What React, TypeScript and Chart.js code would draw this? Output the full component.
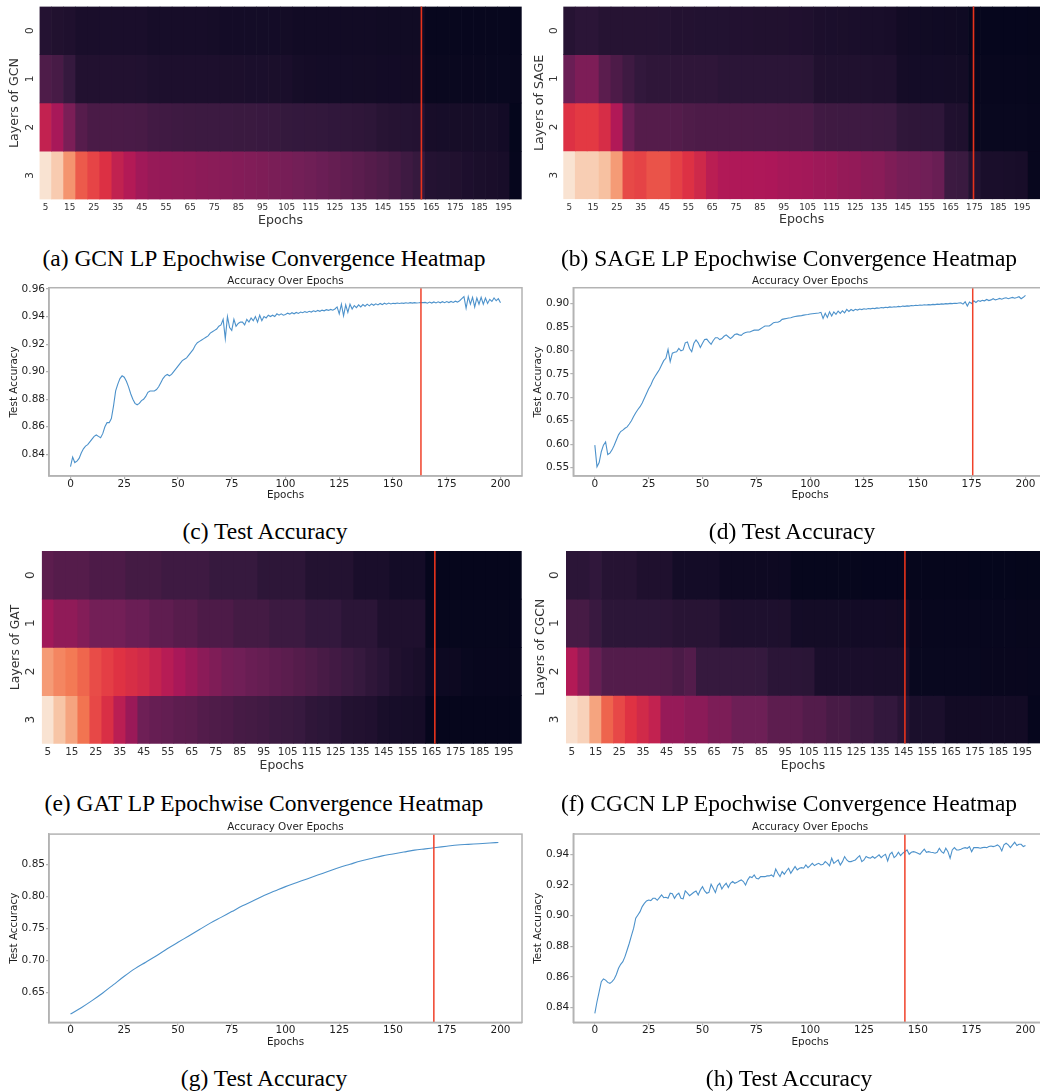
import React, { useEffect, useRef } from 'react';
import { Chart, registerables } from 'chart.js';

Chart.register(...registerables);
Chart.defaults.font.family = "'DejaVu Sans', 'Noto Sans', sans-serif";

// ---------------- DATA ----------------
const heatEpochs = [5, 10, 15, 20, 25, 30, 35, 40, 45, 50, 55, 60, 65, 70, 75, 80, 85, 90, 95, 100,
  105, 110, 115, 120, 125, 130, 135, 140, 145, 150, 155, 160, 165, 170, 175, 180, 185, 190, 195, 200];
const heatLayers = ['0', '1', '2', '3'];

// normalised colour intensity per cell (0 = darkest, 1 = lightest)
const gcnL0 = [0.095, 0.085, 0.080, 0.066, 0.066, 0.066, 0.066, 0.066, 0.066, 0.058,
  0.058, 0.058, 0.058, 0.058, 0.055, 0.050, 0.050, 0.050, 0.050, 0.050,
  0.048, 0.043, 0.043, 0.043, 0.043, 0.043, 0.043, 0.043, 0.040, 0.040,
  0.040, 0.040, 0.014, 0.014, 0.014, 0.014, 0.014, 0.014, 0.014, 0.010];
const gcnL1 = [0.204, 0.187, 0.143, 0.089, 0.089, 0.089, 0.089, 0.089, 0.087, 0.078,
  0.075, 0.075, 0.075, 0.075, 0.075, 0.072, 0.072, 0.070, 0.070, 0.068,
  0.066, 0.055, 0.052, 0.050, 0.050, 0.050, 0.048, 0.048, 0.046, 0.046,
  0.045, 0.045, 0.020, 0.020, 0.020, 0.020, 0.020, 0.018, 0.018, 0.015];
const gcnL2 = [0.487, 0.417, 0.312, 0.223, 0.194, 0.194, 0.194, 0.192, 0.190, 0.175,
  0.170, 0.165, 0.162, 0.160, 0.160, 0.158, 0.156, 0.155, 0.152, 0.150,
  0.140, 0.138, 0.136, 0.134, 0.130, 0.128, 0.125, 0.120, 0.105, 0.100,
  0.098, 0.095, 0.060, 0.058, 0.057, 0.056, 0.055, 0.054, 0.046, 0.006];
const gcnL3 = [0.980, 0.917, 0.783, 0.655, 0.607, 0.558, 0.484, 0.445, 0.400, 0.378,
  0.370, 0.365, 0.360, 0.352, 0.347, 0.340, 0.333, 0.326, 0.318, 0.310,
  0.302, 0.293, 0.283, 0.272, 0.260, 0.248, 0.235, 0.220, 0.205, 0.190,
  0.165, 0.145, 0.095, 0.090, 0.085, 0.075, 0.068, 0.065, 0.060, 0.010];

const sageL0 = [0.100, 0.115, 0.115, 0.100, 0.100, 0.100, 0.100, 0.100, 0.098, 0.092,
  0.092, 0.090, 0.090, 0.090, 0.088, 0.088, 0.085, 0.085, 0.085, 0.082,
  0.080, 0.072, 0.070, 0.068, 0.066, 0.064, 0.062, 0.060, 0.045, 0.042,
  0.040, 0.038, 0.036, 0.034, 0.010, 0.010, 0.010, 0.010, 0.010, 0.008];
const sageL1 = [0.272, 0.316, 0.316, 0.235, 0.200, 0.165, 0.135, 0.125, 0.125, 0.125,
  0.125, 0.125, 0.125, 0.115, 0.115, 0.115, 0.115, 0.115, 0.115, 0.115,
  0.112, 0.085, 0.083, 0.083, 0.083, 0.083, 0.080, 0.080, 0.052, 0.050,
  0.050, 0.050, 0.048, 0.048, 0.015, 0.015, 0.015, 0.015, 0.015, 0.012];
const sageL2 = [0.560, 0.584, 0.584, 0.542, 0.440, 0.272, 0.220, 0.220, 0.220, 0.218,
  0.205, 0.202, 0.200, 0.200, 0.200, 0.200, 0.198, 0.198, 0.196, 0.195,
  0.193, 0.170, 0.168, 0.166, 0.165, 0.164, 0.162, 0.160, 0.128, 0.125,
  0.124, 0.122, 0.082, 0.080, 0.018, 0.018, 0.018, 0.018, 0.018, 0.015];
const sageL3 = [0.980, 0.925, 0.925, 0.890, 0.800, 0.617, 0.605, 0.640, 0.640, 0.600,
  0.560, 0.520, 0.465, 0.440, 0.435, 0.435, 0.432, 0.430, 0.415, 0.410,
  0.405, 0.395, 0.390, 0.372, 0.368, 0.352, 0.348, 0.320, 0.300, 0.295,
  0.285, 0.270, 0.160, 0.155, 0.095, 0.066, 0.066, 0.064, 0.060, 0.015];

const gatL0 = [0.237, 0.220, 0.220, 0.220, 0.200, 0.200, 0.200, 0.180, 0.180, 0.180,
  0.165, 0.165, 0.165, 0.165, 0.145, 0.145, 0.145, 0.145, 0.120, 0.120,
  0.120, 0.120, 0.092, 0.092, 0.092, 0.092, 0.066, 0.066, 0.066, 0.050,
  0.050, 0.050, 0.008, 0.008, 0.008, 0.008, 0.008, 0.008, 0.008, 0.006];
const gatL1 = [0.402, 0.360, 0.360, 0.330, 0.292, 0.292, 0.292, 0.272, 0.272, 0.245,
  0.245, 0.225, 0.225, 0.200, 0.200, 0.200, 0.180, 0.180, 0.180, 0.160,
  0.160, 0.160, 0.138, 0.138, 0.138, 0.115, 0.115, 0.115, 0.080, 0.080,
  0.080, 0.080, 0.012, 0.012, 0.012, 0.012, 0.012, 0.012, 0.012, 0.010];
const gatL2 = [0.800, 0.750, 0.724, 0.680, 0.625, 0.595, 0.565, 0.545, 0.525, 0.490,
  0.455, 0.420, 0.385, 0.350, 0.320, 0.295, 0.285, 0.270, 0.260, 0.245,
  0.235, 0.220, 0.205, 0.190, 0.175, 0.160, 0.145, 0.125, 0.110, 0.085,
  0.075, 0.065, 0.030, 0.030, 0.028, 0.018, 0.015, 0.015, 0.015, 0.012];
const gatL3 = [0.980, 0.900, 0.820, 0.710, 0.615, 0.550, 0.465, 0.385, 0.280, 0.262,
  0.255, 0.240, 0.235, 0.215, 0.207, 0.200, 0.185, 0.180, 0.172, 0.160,
  0.155, 0.148, 0.125, 0.118, 0.110, 0.092, 0.088, 0.082, 0.062, 0.058,
  0.055, 0.052, 0.008, 0.008, 0.008, 0.008, 0.008, 0.008, 0.008, 0.006];

const cgcnL0 = [0.115, 0.115, 0.130, 0.100, 0.100, 0.100, 0.080, 0.080, 0.080, 0.050,
  0.050, 0.050, 0.050, 0.032, 0.032, 0.032, 0.032, 0.032, 0.030, 0.012,
  0.012, 0.012, 0.011, 0.011, 0.011, 0.010, 0.010, 0.010, 0.010, 0.008,
  0.008, 0.008, 0.008, 0.008, 0.006, 0.006, 0.006, 0.006, 0.005, 0.005];
const cgcnL1 = [0.183, 0.183, 0.152, 0.118, 0.118, 0.118, 0.118, 0.118, 0.116, 0.105,
  0.105, 0.105, 0.105, 0.080, 0.078, 0.078, 0.078, 0.078, 0.076, 0.050,
  0.048, 0.048, 0.048, 0.048, 0.046, 0.046, 0.046, 0.045, 0.044, 0.016,
  0.015, 0.015, 0.015, 0.015, 0.015, 0.014, 0.014, 0.014, 0.013, 0.013];
const cgcnL2 = [0.445, 0.360, 0.263, 0.216, 0.216, 0.216, 0.216, 0.216, 0.214, 0.194,
  0.215, 0.145, 0.145, 0.145, 0.145, 0.145, 0.142, 0.115, 0.115, 0.115,
  0.112, 0.066, 0.066, 0.066, 0.066, 0.066, 0.064, 0.064, 0.062, 0.018,
  0.018, 0.018, 0.018, 0.018, 0.018, 0.017, 0.017, 0.016, 0.016, 0.015];
const cgcnL3 = [0.970, 0.935, 0.820, 0.675, 0.615, 0.565, 0.525, 0.485, 0.375, 0.375,
  0.350, 0.350, 0.315, 0.315, 0.278, 0.278, 0.278, 0.240, 0.240, 0.240,
  0.215, 0.215, 0.190, 0.190, 0.165, 0.165, 0.138, 0.138, 0.108, 0.070,
  0.070, 0.070, 0.045, 0.045, 0.045, 0.045, 0.045, 0.045, 0.045, 0.010];

// convergence epochs (red markers)
const heatConvergence = [160.9, 174.6, 166.3, 145.5];
const accConvergence = [163, 175.5, 169, 144];

const lineXTicks = [0, 25, 50, 75, 100, 125, 150, 175, 200];
const gcnYTicks = [0.84, 0.86, 0.88, 0.90, 0.92, 0.94, 0.96];
const sageYTicks = [0.55, 0.60, 0.65, 0.70, 0.75, 0.80, 0.85, 0.90];
const gatYTicks = [0.65, 0.70, 0.75, 0.80, 0.85];
const cgcnYTicks = [0.84, 0.86, 0.88, 0.90, 0.92, 0.94];

// test accuracy per epoch 0..200
const gcnAcc = [
  0.831, 0.838, 0.834, 0.835, 0.837, 0.841, 0.844, 0.846, 0.847, 0.849,
  0.851, 0.853, 0.854, 0.853, 0.852, 0.855, 0.860, 0.863, 0.863, 0.866,
  0.875, 0.886, 0.891, 0.895, 0.897, 0.896, 0.893, 0.889, 0.884, 0.880,
  0.877, 0.876, 0.877, 0.879, 0.880, 0.882, 0.885, 0.886, 0.886, 0.886,
  0.887, 0.889, 0.892, 0.895, 0.897, 0.898, 0.897, 0.898, 0.900, 0.902,
  0.904, 0.906, 0.908, 0.909, 0.910, 0.912, 0.914, 0.916, 0.919, 0.921,
  0.922, 0.923, 0.924, 0.925, 0.926, 0.928, 0.929, 0.930, 0.931, 0.933,
  0.934, 0.938, 0.924, 0.940, 0.932, 0.930, 0.938, 0.933, 0.935, 0.936,
  0.936, 0.934, 0.938, 0.936, 0.939, 0.937, 0.940, 0.936, 0.941, 0.937,
  0.940, 0.939, 0.941, 0.940, 0.941, 0.940, 0.942, 0.941, 0.942, 0.941,
  0.9415, 0.9425, 0.9418, 0.9428, 0.942, 0.943, 0.9423, 0.9433, 0.9428, 0.9436,
  0.943, 0.9438, 0.9433, 0.9442, 0.9436, 0.9445, 0.9438, 0.9447, 0.9442, 0.945,
  0.9445, 0.9452, 0.9446, 0.9455, 0.947, 0.942, 0.949, 0.9405, 0.9485, 0.943,
  0.949, 0.9455, 0.948, 0.9465, 0.9485, 0.947, 0.9487, 0.9475, 0.949, 0.9478,
  0.9492, 0.9482, 0.9493, 0.9485, 0.9495, 0.9487, 0.9497, 0.949, 0.9498, 0.9492,
  0.9497, 0.9494, 0.9498, 0.9495, 0.9499, 0.9496, 0.95, 0.9497, 0.9501, 0.9498,
  0.9501, 0.9499, 0.95, 0.9502, 0.9501, 0.9503, 0.9497, 0.9505, 0.9498, 0.9506,
  0.9499, 0.9507, 0.95, 0.9508, 0.9501, 0.9509, 0.9502, 0.951, 0.9503, 0.9512,
  0.9505, 0.9515, 0.953, 0.9545, 0.946, 0.9545, 0.949, 0.954, 0.947, 0.9535,
  0.949, 0.954, 0.949, 0.9535, 0.9495, 0.9525, 0.951, 0.9535, 0.9515, 0.953, 0.95];

const sageAcc = [
  0.598, 0.552, 0.561, 0.584, 0.598, 0.605, 0.578, 0.581, 0.588, 0.598,
  0.609, 0.620, 0.627, 0.630, 0.634, 0.637, 0.643, 0.650, 0.659, 0.667,
  0.674, 0.680, 0.688, 0.698, 0.708, 0.718, 0.726, 0.737, 0.745, 0.752,
  0.759, 0.769, 0.778, 0.783, 0.802, 0.776, 0.794, 0.796, 0.797, 0.804,
  0.799, 0.801, 0.816, 0.818, 0.804, 0.797, 0.815, 0.822, 0.816, 0.806,
  0.815, 0.823, 0.824, 0.818, 0.813, 0.821, 0.827, 0.827, 0.823, 0.825,
  0.830, 0.833, 0.829, 0.825, 0.829, 0.834, 0.835, 0.833, 0.832, 0.836,
  0.838, 0.839, 0.839, 0.841, 0.843, 0.843, 0.843, 0.846, 0.849, 0.852,
  0.852, 0.852, 0.855, 0.859, 0.860, 0.860, 0.862, 0.866, 0.867, 0.868,
  0.869, 0.8695, 0.871, 0.872, 0.873, 0.8735, 0.874, 0.875, 0.876, 0.8765,
  0.8773, 0.878, 0.8785, 0.879, 0.8795, 0.881, 0.868, 0.879, 0.870, 0.882,
  0.873, 0.882, 0.8766, 0.8837, 0.8787, 0.8844, 0.880, 0.8872, 0.883, 0.887,
  0.8844, 0.8875, 0.8858, 0.888, 0.8868, 0.8885, 0.8875, 0.8892, 0.8884, 0.8898,
  0.889, 0.8905, 0.8898, 0.8912, 0.8905, 0.8918, 0.891, 0.8925, 0.8918, 0.893,
  0.8925, 0.8937, 0.893, 0.8943, 0.8938, 0.8948, 0.8943, 0.8955, 0.895, 0.896,
  0.8955, 0.8965, 0.896, 0.897, 0.8965, 0.8975, 0.897, 0.898, 0.8975, 0.8985,
  0.898, 0.899, 0.8985, 0.8995, 0.899, 0.900, 0.8995, 0.9005, 0.900, 0.901,
  0.9015, 0.8985, 0.9035, 0.8943, 0.903, 0.900, 0.9057, 0.902, 0.906, 0.9045,
  0.9065, 0.9055, 0.9085, 0.906, 0.9075, 0.910, 0.9075, 0.909, 0.9107, 0.909,
  0.911, 0.912, 0.910, 0.9115, 0.9128, 0.911, 0.9125, 0.9142, 0.910, 0.913, 0.917];

const gatEpochs = [0, 5, 10, 15, 20, 25, 30, 35, 40, 45, 50, 55, 60, 65, 70, 75, 80, 85, 90, 95,
  100, 105, 110, 115, 120, 125, 130, 135, 140, 145, 150, 155, 160, 165, 170, 175, 180, 185, 190, 195, 199];
const gatAcc = [0.616, 0.626, 0.637, 0.649, 0.662, 0.675, 0.687, 0.697, 0.707, 0.718,
  0.728, 0.738, 0.748, 0.758, 0.767, 0.776, 0.785, 0.793, 0.801, 0.808,
  0.815, 0.821, 0.827, 0.833, 0.839, 0.845, 0.850, 0.855, 0.859, 0.863,
  0.866, 0.869, 0.872, 0.874, 0.876, 0.878, 0.880, 0.881, 0.882, 0.883, 0.884];

const cgcnAcc = [
  0.8363, 0.8439, 0.8504, 0.857, 0.8587, 0.858, 0.8565, 0.8559, 0.857, 0.8587,
  0.8617, 0.8657, 0.8683, 0.870, 0.8733, 0.8776, 0.882, 0.887, 0.8917, 0.8983,
  0.9004, 0.9026, 0.9059, 0.908, 0.9096, 0.9102, 0.9098, 0.9113, 0.9113, 0.910,
  0.9117, 0.9135, 0.9117, 0.912, 0.9113, 0.9146, 0.9143, 0.9113, 0.9135, 0.9146,
  0.9113, 0.9109, 0.9161, 0.9146, 0.913, 0.9141, 0.9152, 0.9161, 0.9135, 0.9167,
  0.9189, 0.9161, 0.9146, 0.9152, 0.9204, 0.9178, 0.915, 0.9196, 0.9211, 0.9174,
  0.9196, 0.9211, 0.9183, 0.9211, 0.9222, 0.9211, 0.9217, 0.9226, 0.9233, 0.9222,
  0.920, 0.9233, 0.9254, 0.9248, 0.9265, 0.9243, 0.9239, 0.9254, 0.9254, 0.9254,
  0.9259, 0.9259, 0.9265, 0.9254, 0.9304, 0.9276, 0.9254, 0.9287, 0.927, 0.9291,
  0.9309, 0.9276, 0.9298, 0.932, 0.9298, 0.9309, 0.9313, 0.9309, 0.933, 0.9313,
  0.9326, 0.9341, 0.9326, 0.9335, 0.9341, 0.933, 0.9335, 0.9352, 0.9341, 0.9324,
  0.9374, 0.9341, 0.9352, 0.9363, 0.933, 0.9352, 0.9385, 0.9363, 0.9352, 0.9352,
  0.9357, 0.9363, 0.9378, 0.9391, 0.9352, 0.9363, 0.9385, 0.9378, 0.9374, 0.9385,
  0.9374, 0.9385, 0.9396, 0.9378, 0.9391, 0.94, 0.9357, 0.94, 0.9413, 0.9378,
  0.9391, 0.9413, 0.9391, 0.9407, 0.9417, 0.9428, 0.94, 0.9413, 0.9417, 0.9413,
  0.9407, 0.94, 0.9417, 0.9433, 0.9413, 0.9417, 0.9413, 0.9411, 0.9407, 0.9413,
  0.9439, 0.9417, 0.9407, 0.9439, 0.9417, 0.9374, 0.9428, 0.9443, 0.9428, 0.9428,
  0.9433, 0.9439, 0.9443, 0.9439, 0.945, 0.9417, 0.9443, 0.9443, 0.9443, 0.9439,
  0.9443, 0.9446, 0.9443, 0.945, 0.9454, 0.945, 0.9454, 0.9461, 0.945, 0.9422,
  0.9461, 0.9472, 0.9461, 0.9443, 0.9461, 0.9478, 0.9457, 0.9465, 0.9465, 0.945, 0.9457];

const captions = [
  '(a) GCN LP Epochwise Convergence Heatmap',
  '(b) SAGE LP Epochwise Convergence Heatmap',
  '(c) Test Accuracy',
  '(d) Test Accuracy',
  '(e) GAT LP Epochwise Convergence Heatmap',
  '(f) CGCN LP Epochwise Convergence Heatmap',
  '(g) Test Accuracy',
  '(h) Test Accuracy',
];

// ---------------- STYLE HELPERS ----------------
const ROCKET_STOPS = [
  [0.0, 3, 5, 26], [0.143, 53, 25, 62], [0.286, 112, 31, 87], [0.429, 173, 23, 89],
  [0.571, 225, 51, 66], [0.714, 243, 118, 81], [0.857, 246, 180, 143], [1.0, 250, 235, 221],
];
function rocket(v: number): string {
  const t = Math.max(0, Math.min(1, v));
  for (let i = 1; i < ROCKET_STOPS.length; i++) {
    const a = ROCKET_STOPS[i - 1];
    const b = ROCKET_STOPS[i];
    if (t <= b[0]) {
      const f = (t - a[0]) / (b[0] - a[0]);
      const r = Math.round(a[1] + (b[1] - a[1]) * f);
      const g = Math.round(a[2] + (b[2] - a[2]) * f);
      const bl = Math.round(a[3] + (b[3] - a[3]) * f);
      return `rgb(${r},${g},${bl})`;
    }
  }
  return 'rgb(250,235,221)';
}

const SPINE = '#b3b3b3';
const TEXT = '#1e1e1e';
const RED = '#f0412a';
const BLUE = '#4d92cb';

type HeatCfg = {
  left: number; plotLeft: number; plotRight: number; plotTop: number; plotBottom: number;
  tickY: number; epochsY: number; yTitleX: number; rowLabelX: number;
  tickFont: number; titleFont: number; rowFont: number; yTitle: string;
  rows: number[][]; conv: number;
};

function Heatmap({ cfg }: { cfg: HeatCfg }) {
  const ref = useRef<HTMLCanvasElement>(null);
  const canvasTop = Math.floor(cfg.plotTop - 6);
  const xAxisH = 32;
  const height = Math.ceil(cfg.plotBottom + xAxisH - canvasTop);
  const padBottom = height - (cfg.plotBottom + xAxisH - canvasTop);
  const width = Math.ceil(cfg.plotRight - cfg.left);
  const padRight = width - (cfg.plotRight - cfg.left);

  useEffect(() => {
    const tickLh = cfg.tickFont * 1.2;
    const titleLh = cfg.titleFont * 1.2;
    const rowPlugin = {
      id: 'rowLabels',
      afterDraw(chart: any) {
        const ctx = chart.ctx;
        const ys = chart.scales.y;
        ctx.save();
        ctx.font = `${cfg.rowFont}px 'DejaVu Sans', sans-serif`;
        ctx.fillStyle = '#333';
        ctx.textAlign = 'center';
        ctx.textBaseline = 'middle';
        heatLayers.forEach((lab, r) => {
          const py = ys.getPixelForValue(r + 0.5);
          ctx.save();
          ctx.translate(cfg.rowLabelX - cfg.left, py);
          ctx.rotate(-Math.PI / 2);
          ctx.fillText(lab, 0, 0);
          ctx.restore();
        });
        ctx.restore();
      },
    };
    const convPlugin = {
      id: 'convLine',
      afterDatasetsDraw(chart: any) {
        const ctx = chart.ctx;
        const xs = chart.scales.x;
        const idx = (cfg.conv - heatEpochs[0]) / (heatEpochs[1] - heatEpochs[0]);
        const px = xs.getPixelForValue(idx);
        const area = chart.chartArea;
        ctx.save();
        ctx.strokeStyle = '#e8331c';
        ctx.lineWidth = 1.6;
        ctx.beginPath();
        ctx.moveTo(px, area.top);
        ctx.lineTo(px, area.bottom);
        ctx.stroke();
        ctx.restore();
      },
    };
    const chart = new Chart(ref.current as HTMLCanvasElement, {
      type: 'bar',
      data: {
        labels: heatEpochs.map(String),
        datasets: cfg.rows.map((vals, r) => ({
          data: vals.map(() => [r, r + 1]),
          backgroundColor: vals.map(rocket),
          borderWidth: 0,
          barPercentage: 1,
          categoryPercentage: 1,
          grouped: false,
        })),
      } as any,
      options: {
        animation: false,
        responsive: false,
        layout: { padding: { top: cfg.plotTop - canvasTop, bottom: padBottom, left: 0, right: padRight } },
        plugins: { legend: { display: false }, tooltip: { enabled: false } },
        scales: {
          x: {
            type: 'category',
            offset: true,
            grid: { display: false, drawTicks: false },
            border: { display: false },
            ticks: {
              autoSkip: false, maxRotation: 0, minRotation: 0,
              padding: cfg.tickY - cfg.plotBottom - tickLh / 2,
              color: '#333',
              font: { size: cfg.tickFont, lineHeight: 1.2 },
              callback: (_v: any, i: number) => (i % 2 === 0 ? String(heatEpochs[i]) : ''),
            },
            title: {
              display: true, text: 'Epochs', color: '#333',
              font: { size: cfg.titleFont, lineHeight: 1.2 },
              padding: { top: 0, bottom: cfg.plotBottom + xAxisH - titleLh / 2 - cfg.epochsY },
            },
            afterFit: (s: any) => { s.height = xAxisH; },
          },
          y: {
            type: 'linear', min: 0, max: 4, reverse: true,
            grid: { display: false, drawTicks: false },
            border: { display: false },
            ticks: { display: false },
            title: {
              display: true, text: cfg.yTitle, color: '#333',
              font: { size: cfg.titleFont, lineHeight: 1.2 },
              padding: { top: cfg.yTitleX - cfg.left - titleLh / 2, bottom: 0 },
            },
            afterFit: (s: any) => { s.width = cfg.plotLeft - cfg.left; },
          },
        },
      } as any,
      plugins: [rowPlugin, convPlugin],
    });
    return () => chart.destroy();
  }, []);

  return (
    <canvas
      ref={ref}
      width={width}
      height={height}
      style={{ position: 'absolute', left: cfg.left, top: canvasTop, width, height }}
    />
  );
}

type LineCfg = {
  left: number; plotLeft: number; plotRight: number; plotTop: number; plotBottom: number;
  titleY: number; epochsY: number; yTitleX: number; yMin: number; yMax: number;
  yTicks: number[]; xs: number[]; ys: number[]; conv: number; smooth: boolean;
};

function AccLine({ cfg }: { cfg: LineCfg }) {
  const ref = useRef<HTMLCanvasElement>(null);
  const FS = 10.4;
  const lh = FS * 1.2;
  const canvasTop = Math.floor(cfg.titleY - lh / 2 - 4);
  const xAxisH = 30;
  const height = Math.ceil(cfg.plotBottom + xAxisH - canvasTop);
  const padBottom = height - (cfg.plotBottom + xAxisH - canvasTop);
  const width = Math.ceil(cfg.plotRight + 6 - cfg.left);
  const padRight = width - (cfg.plotRight - cfg.left);

  useEffect(() => {
    const framePlugin = {
      id: 'frame',
      afterDraw(chart: any) {
        const a = chart.chartArea;
        const ctx = chart.ctx;
        ctx.save();
        ctx.strokeStyle = SPINE;
        ctx.lineWidth = 1.5;
        ctx.strokeRect(a.left, a.top, a.right - a.left, a.bottom - a.top);
        ctx.restore();
      },
    };
    const convPlugin = {
      id: 'convLine',
      afterDatasetsDraw(chart: any) {
        const a = chart.chartArea;
        const ctx = chart.ctx;
        const px = chart.scales.x.getPixelForValue(cfg.conv);
        ctx.save();
        ctx.strokeStyle = RED;
        ctx.lineWidth = 1.5;
        ctx.beginPath();
        ctx.moveTo(px, a.top);
        ctx.lineTo(px, a.bottom);
        ctx.stroke();
        ctx.restore();
      },
    };
    const chart = new Chart(ref.current as HTMLCanvasElement, {
      type: 'line',
      data: {
        datasets: [{
          data: cfg.ys.map((v, i) => ({ x: cfg.xs[i], y: v })),
          borderColor: BLUE,
          borderWidth: 1.1,
          pointRadius: 0,
          tension: 0,
          cubicInterpolationMode: cfg.smooth ? 'monotone' : 'default',
          fill: false,
        }],
      },
      options: {
        animation: false,
        responsive: false,
        layout: { padding: { top: 0, bottom: padBottom, left: 0, right: padRight } },
        plugins: {
          legend: { display: false },
          tooltip: { enabled: false },
          title: {
            display: true,
            text: 'Accuracy Over Epochs',
            fullSize: false,
            color: TEXT,
            font: { size: FS, weight: 'normal', lineHeight: 1.2 },
            padding: { top: cfg.titleY - canvasTop - lh / 2, bottom: Math.max(0, cfg.plotTop - cfg.titleY - lh / 2) },
          },
        },
        scales: {
          x: {
            type: 'linear', min: -10, max: 210,
            afterBuildTicks: (s: any) => { s.ticks = lineXTicks.map((v) => ({ value: v })); },
            grid: { display: true, drawOnChartArea: false, drawTicks: true, tickLength: 3, color: SPINE, lineWidth: 1.2 },
            border: { display: true, color: SPINE, width: 1.5 },
            ticks: { padding: 0, color: TEXT, font: { size: 10.5, lineHeight: 1.0 }, callback: (v: any) => String(v) },
            title: {
              display: true, text: 'Epochs', color: TEXT,
              font: { size: FS, lineHeight: 1.2 },
              padding: { top: 0, bottom: cfg.plotBottom + xAxisH - lh / 2 - cfg.epochsY },
            },
            afterFit: (s: any) => { s.height = xAxisH; },
          },
          y: {
            type: 'linear', min: cfg.yMin, max: cfg.yMax,
            afterBuildTicks: (s: any) => { s.ticks = cfg.yTicks.map((v) => ({ value: v })); },
            grid: { display: true, drawOnChartArea: false, drawTicks: true, tickLength: 3, color: SPINE, lineWidth: 1.2 },
            border: { display: true, color: SPINE, width: 1.5 },
            ticks: { padding: 1, color: TEXT, font: { size: 10.5, lineHeight: 1.2 }, callback: (v: any) => Number(v).toFixed(2) },
            title: {
              display: true, text: 'Test Accuracy', color: TEXT,
              font: { size: FS, lineHeight: 1.2 },
              padding: { top: cfg.yTitleX - cfg.left - lh / 2, bottom: 0 },
            },
            afterFit: (s: any) => { s.width = cfg.plotLeft - cfg.left; },
          },
        },
      } as any,
      plugins: [convPlugin, framePlugin],
    });
    return () => chart.destroy();
  }, []);

  return (
    <canvas
      ref={ref}
      width={width}
      height={height}
      style={{ position: 'absolute', left: cfg.left, top: canvasTop, width, height }}
    />
  );
}

const epochIndex = gcnAcc.map((_, i) => i);

const heatCfgs: HeatCfg[] = [
  { left: 0, plotLeft: 39.5, plotRight: 521.7, plotTop: 6.5, plotBottom: 199.5, tickY: 208, epochsY: 220.5,
    yTitleX: 15.2, rowLabelX: 30.5, tickFont: 8.8, titleFont: 12.6, rowFont: 10.5, yTitle: 'Layers of GCN',
    rows: [gcnL0, gcnL1, gcnL2, gcnL3], conv: heatConvergence[0] },
  { left: 520, plotLeft: 563.3, plotRight: 1040, plotTop: 6.5, plotBottom: 199.2, tickY: 207.5, epochsY: 220.2,
    yTitleX: 540, rowLabelX: 554, tickFont: 8.8, titleFont: 12.6, rowFont: 10.5, yTitle: 'Layers of SAGE',
    rows: [sageL0, sageL1, sageL2, sageL3], conv: heatConvergence[1] },
  { left: 0, plotLeft: 41.8, plotRight: 521.7, plotTop: 551, plotBottom: 743.8, tickY: 752.7, epochsY: 766,
    yTitleX: 15.5, rowLabelX: 31.3, tickFont: 10.4, titleFont: 12.4, rowFont: 12, yTitle: 'Layers of GAT',
    rows: [gatL0, gatL1, gatL2, gatL3], conv: heatConvergence[2] },
  { left: 520, plotLeft: 566, plotRight: 1040, plotTop: 551, plotBottom: 743.5, tickY: 752.5, epochsY: 765.8,
    yTitleX: 540.5, rowLabelX: 554.7, tickFont: 10.4, titleFont: 12.4, rowFont: 12, yTitle: 'Layers of CGCN',
    rows: [cgcnL0, cgcnL1, cgcnL2, cgcnL3], conv: heatConvergence[3] },
];

const lineCfgs: LineCfg[] = [
  { left: 0, plotLeft: 49, plotRight: 522, plotTop: 287.7, plotBottom: 476, titleY: 281.5, epochsY: 495.7,
    yTitleX: 14, yMin: 0.82425, yMax: 0.96094, yTicks: gcnYTicks, xs: epochIndex, ys: gcnAcc, conv: accConvergence[0], smooth: false },
  { left: 520, plotLeft: 573.3, plotRight: 1047, plotTop: 287.7, plotBottom: 476, titleY: 281.5, epochsY: 495.7,
    yTitleX: 538.3, yMin: 0.5323, yMax: 0.9334, yTicks: sageYTicks, xs: epochIndex, ys: sageAcc, conv: accConvergence[1], smooth: false },
  { left: 0, plotLeft: 49, plotRight: 522, plotTop: 834.1, plotBottom: 1022.4, titleY: 827.4, epochsY: 1042,
    yTitleX: 14, yMin: 0.603, yMax: 0.897, yTicks: gatYTicks, xs: gatEpochs, ys: gatAcc, conv: accConvergence[2], smooth: true },
  { left: 520, plotLeft: 573.3, plotRight: 1047, plotTop: 834, plotBottom: 1022.3, titleY: 827.4, epochsY: 1042,
    yTitleX: 538.3, yMin: 0.8305, yMax: 0.9532, yTicks: cgcnYTicks, xs: epochIndex, ys: cgcnAcc, conv: accConvergence[3], smooth: false },
];

// caption placement: [centerX, top]
const captionPos = [
  [264, 247], [789, 247], [265, 519.5], [792, 519.5],
  [264, 792], [789, 792], [264, 1066.5], [789, 1066.5],
];

export default function App() {
  return (
    <div style={{ position: 'fixed', left: 0, top: 0, width: 1040, height: 1091, overflow: 'hidden', background: '#fff' }}>
      {heatCfgs.map((c, i) => <Heatmap key={'h' + i} cfg={c} />)}
      {lineCfgs.map((c, i) => <AccLine key={'l' + i} cfg={c} />)}
      {captions.map((t, i) => (
        <div
          key={'c' + i}
          style={{
            position: 'absolute',
            left: captionPos[i][0] - 300,
            top: captionPos[i][1],
            width: 600,
            textAlign: 'center',
            fontFamily: "'Liberation Serif', 'Times New Roman', serif",
            fontSize: 23.5,
            lineHeight: '23.5px',
            color: '#000',
            whiteSpace: 'nowrap',
          }}
        >
          {t}
        </div>
      ))}
    </div>
  );
}
